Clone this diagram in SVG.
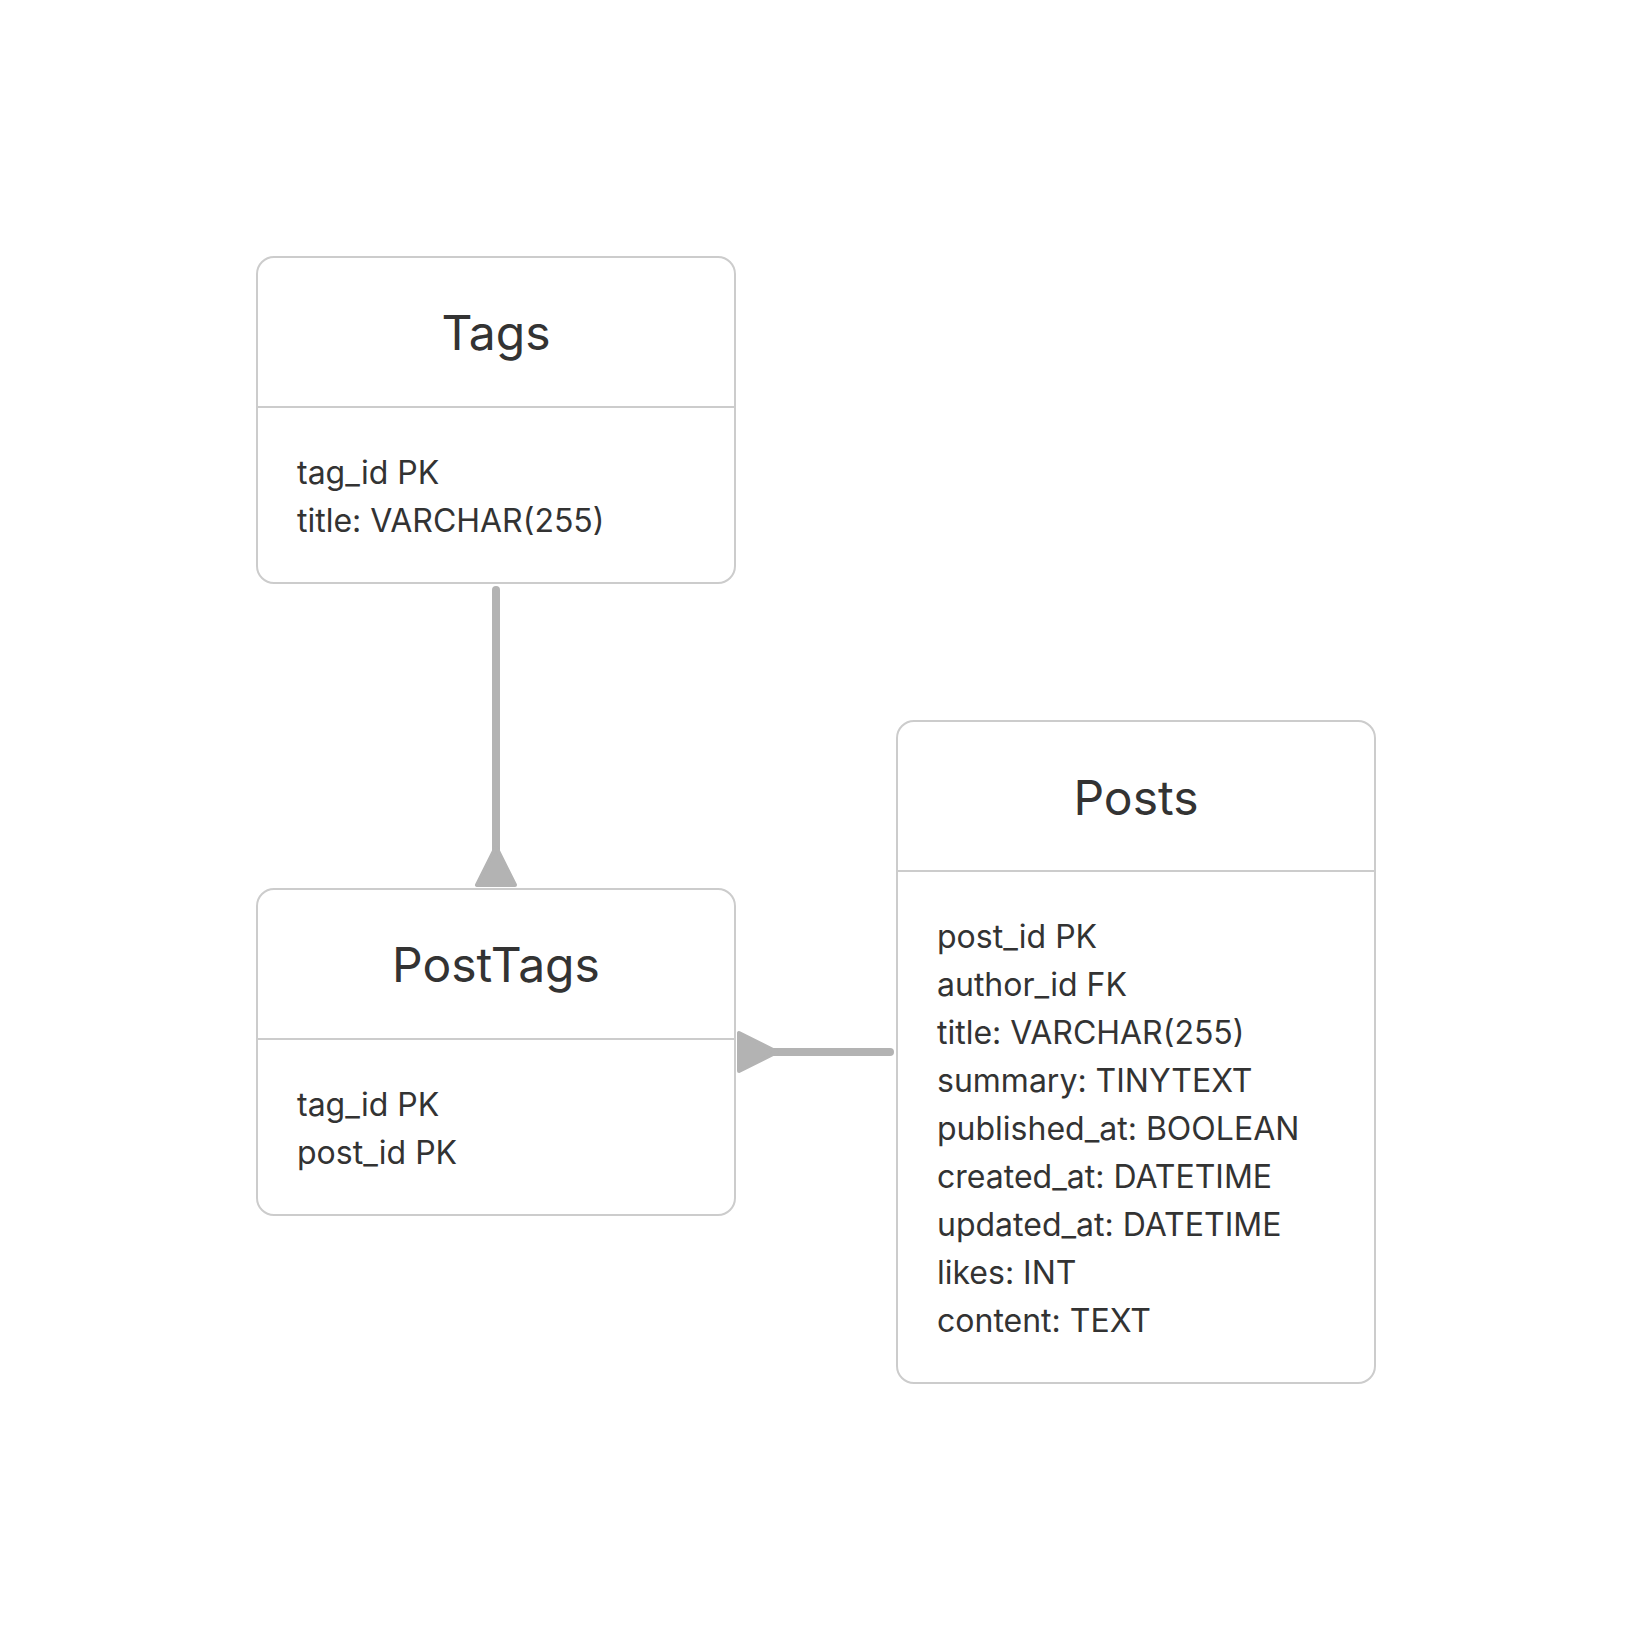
<svg xmlns="http://www.w3.org/2000/svg" width="1632" height="1640" viewBox="0 0 1632 1640">
<style>
.box{fill:#ffffff;stroke:#cccccc;stroke-width:2}
.div{stroke:#cccccc;stroke-width:2}
.title{font-family:Inter,"Noto Sans",sans-serif;font-size:48px;fill:#333333;text-anchor:middle}
.field{font-family:Inter,"Noto Sans",sans-serif;font-size:32px;fill:#333333}
.conn{stroke:#b3b3b3;stroke-width:8;stroke-linecap:round;fill:none}
.head{fill:#b3b3b3;stroke:#b3b3b3;stroke-width:4;stroke-linejoin:round}
</style>
<rect width="1632" height="1640" fill="#ffffff"/>
<g id="connectors">
<line class="conn" x1="496" y1="590" x2="496" y2="860"/>
<polygon class="head" points="496,847 477,885 515,885"/>
<line class="conn" x1="890" y1="1052" x2="770" y2="1052"/>
<polygon class="head" points="777,1052 739,1033 739,1071"/>
</g>
<g id="Tags">
<rect class="box" x="257" y="257" width="478" height="326" rx="17"/>
<line class="div" x1="257" y1="407" x2="735" y2="407"/>
<text class="title" x="496" y="350">Tags</text>
<text class="field" x="297" y="484">tag_id PK</text>
<text class="field" x="297" y="532">title: VARCHAR(255)</text>
</g>
<g id="PostTags">
<rect class="box" x="257" y="889" width="478" height="326" rx="17"/>
<line class="div" x1="257" y1="1039" x2="735" y2="1039"/>
<text class="title" x="496" y="982">PostTags</text>
<text class="field" x="297" y="1116">tag_id PK</text>
<text class="field" x="297" y="1164">post_id PK</text>
</g>
<g id="Posts">
<rect class="box" x="897" y="721" width="478" height="662" rx="17"/>
<line class="div" x1="897" y1="871" x2="1375" y2="871"/>
<text class="title" x="1136" y="815">Posts</text>
<text class="field" x="937" y="948">post_id PK</text>
<text class="field" x="937" y="996">author_id FK</text>
<text class="field" x="937" y="1044">title: VARCHAR(255)</text>
<text class="field" x="937" y="1092">summary: TINYTEXT</text>
<text class="field" x="937" y="1140">published_at: BOOLEAN</text>
<text class="field" x="937" y="1188">created_at: DATETIME</text>
<text class="field" x="937" y="1236">updated_at: DATETIME</text>
<text class="field" x="937" y="1284">likes: INT</text>
<text class="field" x="937" y="1332">content: TEXT</text>
</g>
</svg>
